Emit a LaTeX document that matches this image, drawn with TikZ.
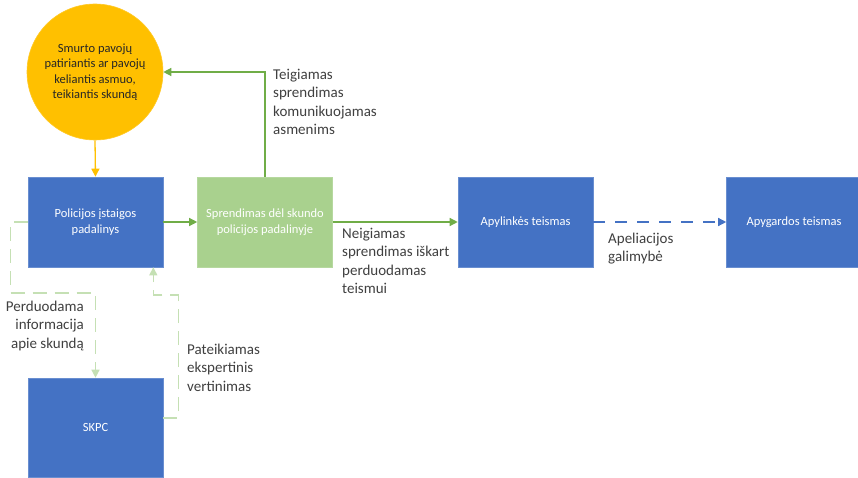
\documentclass[tikz,border=0pt]{standalone}
\usepackage{fontspec}
\setmainfont{Carlito}
\usetikzlibrary{arrows.meta}
\definecolor{cblue}{HTML}{4472C4}
\definecolor{cgreenbox}{HTML}{A9D18E}
\definecolor{cgreen}{HTML}{70AD47}
\definecolor{corange}{HTML}{FFC000}
\definecolor{clight}{HTML}{C5E0B4}
\definecolor{ctext}{HTML}{404040}
\tikzset{
  box/.style={rectangle, minimum width=135pt, minimum height=90pt, inner sep=2pt,
    text=white, align=center, font=\fontsize{12.5}{16}\selectfont},
  bluebox/.style={box, fill=cblue, draw=cblue!80!white, line width=0.6pt},
  greenbox/.style={box, fill=cgreenbox, draw=cgreenbox!85!white, line width=0.6pt},
  lbl/.style={text=ctext, align=left, inner sep=0pt, font=\fontsize{15}{18.3}\selectfont},
  tip/.style={-{Triangle[length=8pt,width=8pt]}},
  garrow/.style={tip, draw=cgreen, line width=1.3pt},
  oarrow/.style={tip, draw=corange, line width=1.3pt},
  barrow/.style={tip, draw=cblue, line width=1.3pt, dash pattern=on 12pt off 10pt},
  larrow/.style={tip, draw=clight, line width=1.3pt, dash pattern=on 14pt off 8pt}
}
\begin{document}
\begin{tikzpicture}[x=1pt,y=-1pt]
\useasboundingbox (0,0) rectangle (858,478);
\fill[white] (0,0) rectangle (858,478);
\node[circle, fill=corange, draw=corange!85!white, line width=0.6pt, minimum size=136pt, inner sep=0pt,
  text=black!85, align=center, font=\fontsize{12.5}{15.5}\selectfont] (circ) at (95,72)
  {Smurto pavojų\\patiriantis ar pavojų\\keliantis asmuo,\\teikiantis skundą};
\node[bluebox] (pol) at (95.5,222) {Policijos įstaigos\\padalinys};
\node[greenbox] (spr) at (265,222) {Sprendimas dėl skundo\\policijos padalinyje};
\node[bluebox] (apl) at (525.5,222) {Apylinkės teismas};
\node[bluebox] (apg) at (794,222) {Apygardos teismas};
\node[bluebox, minimum height=99pt] (skpc) at (95.5,427.5) {SKPC};

\draw[oarrow] (circ.south) -- (pol.north);
\draw[garrow] (pol.east) -- (spr.west);
\draw[garrow] (spr.east) -- (apl.west);
\draw[garrow] (spr.north) |- (circ.east);
\draw[barrow] (apl.east) -- (apg.west);
\draw[larrow] (pol.west) -- ++(-17,0) -- ++(0,71) -| (skpc.north);
\draw[larrow] ([yshift=9.5pt]skpc.east) -- ++(15,0) -- ++(0,-123) -| ([xshift=-10pt]pol.south east);

\node[lbl, anchor=north west] (l1) at (273,69) {Teigiamas\\sprendimas\\komunikuojamas\\asmenims};
\node[lbl, anchor=north west] (l2) at (342,228) {Neigiamas\\sprendimas iškart\\perduodamas\\teismui};
\node[lbl, anchor=north west] (l3) at (608,233) {Apeliacijos\\galimybė};
\node[lbl, anchor=north east, align=right] (l4) at (84,301) {Perduodama\\informacija\\apie skundą};
\node[lbl, anchor=north west] (l5) at (187,344) {Pateikiamas\\ekspertinis\\vertinimas};
\end{tikzpicture}
\end{document}
